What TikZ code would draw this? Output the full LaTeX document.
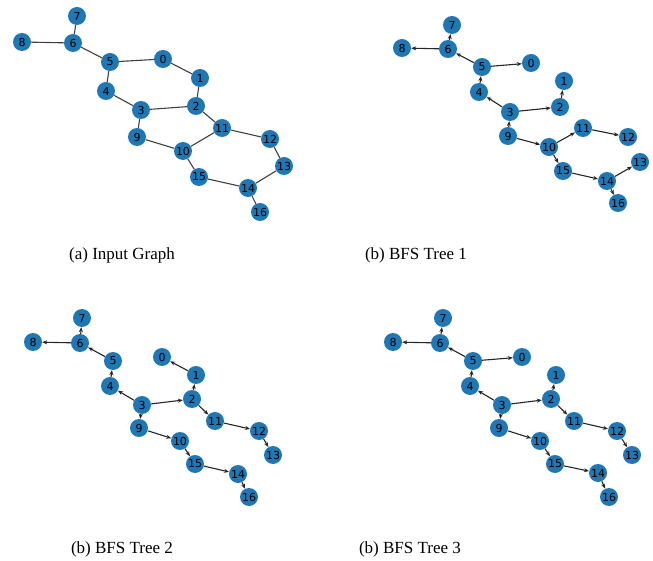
\documentclass[tikz,border=0pt]{standalone}
\usepackage{fontspec}
\setmainfont{Liberation Serif}
\newfontfamily\nodefont{DejaVu Sans}
\usetikzlibrary{arrows.meta}
\definecolor{nxblue}{HTML}{1F77B4}
\tikzset{
  vtx/.style={circle, fill=nxblue, draw=none, inner sep=0pt, minimum size=18pt, font=\nodefont\fontsize{11}{11}\selectfont, text=black},
  uedge/.style={draw=black!75, line width=1.1pt},
  dedge/.style={draw=black!85, line width=1.1pt, -{Stealth[length=5pt,width=4pt]}},
  captext/.style={font=\fontsize{17}{17}\selectfont, anchor=base}
}
\begin{document}
\begin{tikzpicture}[x=1pt,y=-1pt]
\useasboundingbox (0,0) rectangle (653,561);
% ---------- (a) input graph ----------
\foreach \n/\x/\y in {0/163/59,1/200/78,2/196/106,3/141/110,4/106/91,5/110/62,6/73/43,7/77/16,8/22/42,9/137/137,10/183/151,11/222/128,12/270/139,13/284/166,14/248/188,15/199/177,16/260/212}
  \node[vtx] (a\n) at (\x,\y) {\n};
\foreach \u/\v in {7/6,8/6,6/5,5/0,5/4,0/1,1/2,4/3,3/2,2/11,3/9,9/10,10/11,11/12,12/13,13/14,10/15,15/14,14/16}
  \draw[uedge] (a\u) -- (a\v);
\node[captext] (capa) at (122,260) {(a) Input Graph};
% ---------- (b) BFS tree 1 ----------
\foreach \n/\x/\y in {0/531/63,1/564/81,2/560/107,3/510/112,4/479/92,5/482/67,6/448/49,7/452/25,8/402/48,9/508/136,10/549/147,11/583/128,12/628/137,13/640/162,14/607/181,15/563/171,16/618/203}
  \node[vtx] (b\n) at (\x,\y) {\n};
\foreach \u/\v in {6/8,6/7,5/6,5/0,4/5,3/4,3/2,2/1,9/3,9/10,10/11,11/12,10/15,15/14,14/13,14/16}
  \draw[dedge] (b\u) -- (b\v);
\node[captext] (capb) at (416,260) {(b) BFS Tree 1};
% ---------- (b) BFS tree 2 ----------
\foreach \n/\x/\y in {0/162/357,1/196/375,2/192/399,3/142/405,4/110/386,5/113/361,6/80/343,7/82/318,8/33/342,9/139/428,10/180/441,11/215/421,12/259/431,13/273/455,14/238/474,15/195/464,16/249/497}
  \node[vtx] (c\n) at (\x,\y) {\n};
\foreach \u/\v in {6/8,6/7,5/6,4/5,3/4,3/2,3/9,2/1,1/0,2/11,11/12,12/13,9/10,10/15,15/14,14/16}
  \draw[dedge] (c\u) -- (c\v);
\node[captext] (capc) at (122,553) {(b) BFS Tree 2};
% ---------- (b) BFS tree 3 ----------
\foreach \n/\x/\y in {0/522/357,1/556/375,2/551/399,3/502/405,4/470/386,5/473/361,6/440/343,7/443/318,8/393/342,9/499/428,10/540/441,11/574/421,12/617/431,13/632/455,14/598/473,15/555/464,16/609/497}
  \node[vtx] (d\n) at (\x,\y) {\n};
\foreach \u/\v in {6/8,6/7,5/6,5/0,4/5,3/4,3/2,3/9,2/1,2/11,11/12,12/13,9/10,10/15,15/14,14/16}
  \draw[dedge] (d\u) -- (d\v);
\node[captext] (capd) at (410,553) {(b) BFS Tree 3};
\end{tikzpicture}
\end{document}
